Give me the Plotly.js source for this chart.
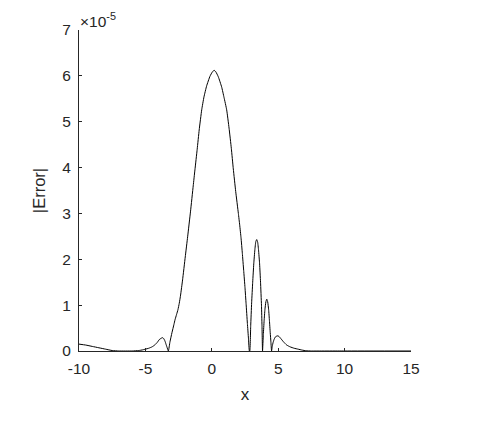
<!DOCTYPE html>
<html>
<head>
<meta charset="utf-8">
<script src="https://cdn.plot.ly/plotly-3.0.1.min.js"></script>
<style>html,body{margin:0;padding:0;background:#fff;}#chart{width:499px;height:440px;}</style>
</head>
<body>
<div id="chart"></div>
<script>
// x values and |Error| values (in units of 1e-5)
const xVals = [
  -10, -9.5, -9.0, -8.5, -8.0, -7.5, -7.0, -6.0, -5.5, -5.2, -5.0, -4.75, -4.5, -4.3, -4.1, -3.95, -3.8, -3.7, -3.62, -3.53, -3.45, -3.37, -3.27,
  -3.15, -3.0, -2.85, -2.77, -2.65, -2.55, -2.45, -2.35, -2.2, -2.0, -1.82, -1.6, -1.4, -1.27, -1.1, -0.95, -0.76, -0.59, -0.39, -0.14, 0.05, 0.18,
  0.3, 0.49, 0.74, 0.92, 1.12, 1.3, 1.47, 1.62, 1.8, 2.0, 2.1, 2.2, 2.3, 2.4, 2.5, 2.58, 2.68, 2.76, 2.83,
  2.86, 2.93, 3.0, 3.08, 3.16, 3.24, 3.31, 3.38, 3.45, 3.52, 3.6, 3.67, 3.74, 3.78, 3.82,
  3.88, 3.94, 4.0, 4.07, 4.14, 4.21, 4.28, 4.34, 4.4, 4.45, 4.5,
  4.55, 4.62, 4.7, 4.8, 4.93, 5.05, 5.2, 5.4, 5.64, 5.9, 6.2, 6.5, 6.8, 7.1, 7.5, 10, 15
];
const errVals = [
  0.15, 0.13, 0.10, 0.07, 0.04, 0.01, 0.0, 0.0, 0.01, 0.025, 0.04, 0.06, 0.09, 0.13, 0.19, 0.25, 0.28, 0.29, 0.27, 0.22, 0.15, 0.08, 0.0,
  0.20, 0.40, 0.58, 0.68, 0.80, 0.90, 1.04, 1.22, 1.55, 2.05, 2.49, 3.05, 3.60, 3.95, 4.40, 4.82, 5.26, 5.54, 5.78, 5.99, 6.09, 6.12,
  6.09, 5.98, 5.76, 5.53, 5.26, 4.86, 4.42, 3.97, 3.48, 3.00, 2.75, 2.47, 2.13, 1.76, 1.38, 1.04, 0.60, 0.28, 0.0,
  0.0, 0.55, 1.05, 1.50, 1.90, 2.20, 2.38, 2.43, 2.38, 2.20, 1.90, 1.50, 1.00, 0.55, 0.0,
  0.36, 0.66, 0.90, 1.07, 1.13, 1.07, 0.90, 0.66, 0.40, 0.20, 0.0,
  0.10, 0.19, 0.26, 0.31, 0.33, 0.32, 0.27, 0.20, 0.13, 0.09, 0.06, 0.04, 0.02, 0.005, 0.0, 0.0, 0.0
];
const xTicks = [-10, -5, 0, 5, 10, 15];
const yTicks = [0, 1, 2, 3, 4, 5, 6, 7];
const xLabel = 'x';
const yLabel = '|Error|';
const exponentText = '×10<sup>-5</sup>';

const axisColor = '#262626';
const font = 'Liberation Sans, Arial, sans-serif';

Plotly.newPlot('chart', [{
  x: xVals, y: errVals, type: 'scatter', mode: 'lines',
  line: {color: '#000000', width: 1, shape: 'spline', smoothing: 0.4}, hoverinfo: 'skip'
}], {
  width: 499, height: 440,
  margin: {l: 79, r: 88, t: 30, b: 89},
  paper_bgcolor: '#ffffff', plot_bgcolor: '#ffffff',
  showlegend: false,
  font: {family: font, color: axisColor, size: 15.5},
  xaxis: {
    range: [-10, 15], tickvals: xTicks, ticktext: xTicks.map(String),
    showgrid: false, zeroline: false, showline: true, linecolor: axisColor, linewidth: 1,
    ticks: 'inside', ticklen: 3, tickcolor: axisColor, tickfont: {size: 15.5, color: axisColor},
    ticklabelstandoff: 3,
    title: {text: xLabel, font: {size: 17, color: axisColor}, standoff: 12},
    mirror: false, fixedrange: true
  },
  yaxis: {
    range: [0, 7], tickvals: yTicks, ticktext: yTicks.map(String),
    showgrid: false, zeroline: false, showline: true, linecolor: axisColor, linewidth: 1,
    ticks: 'inside', ticklen: 3, tickcolor: axisColor, tickfont: {size: 15.5, color: axisColor},
    ticklabelstandoff: 4,
    title: {text: yLabel, font: {size: 16.5, color: axisColor}, standoff: 12},
    mirror: false, fixedrange: true
  },
  annotations: [{
    xref: 'paper', yref: 'paper', x: 0, y: 1, xanchor: 'left', yanchor: 'bottom',
    text: exponentText, showarrow: false, font: {size: 15.5, color: axisColor}, xshift: -1, yshift: -2
  }]
}, {displayModeBar: false, staticPlot: true});
</script>
</body>
</html>
